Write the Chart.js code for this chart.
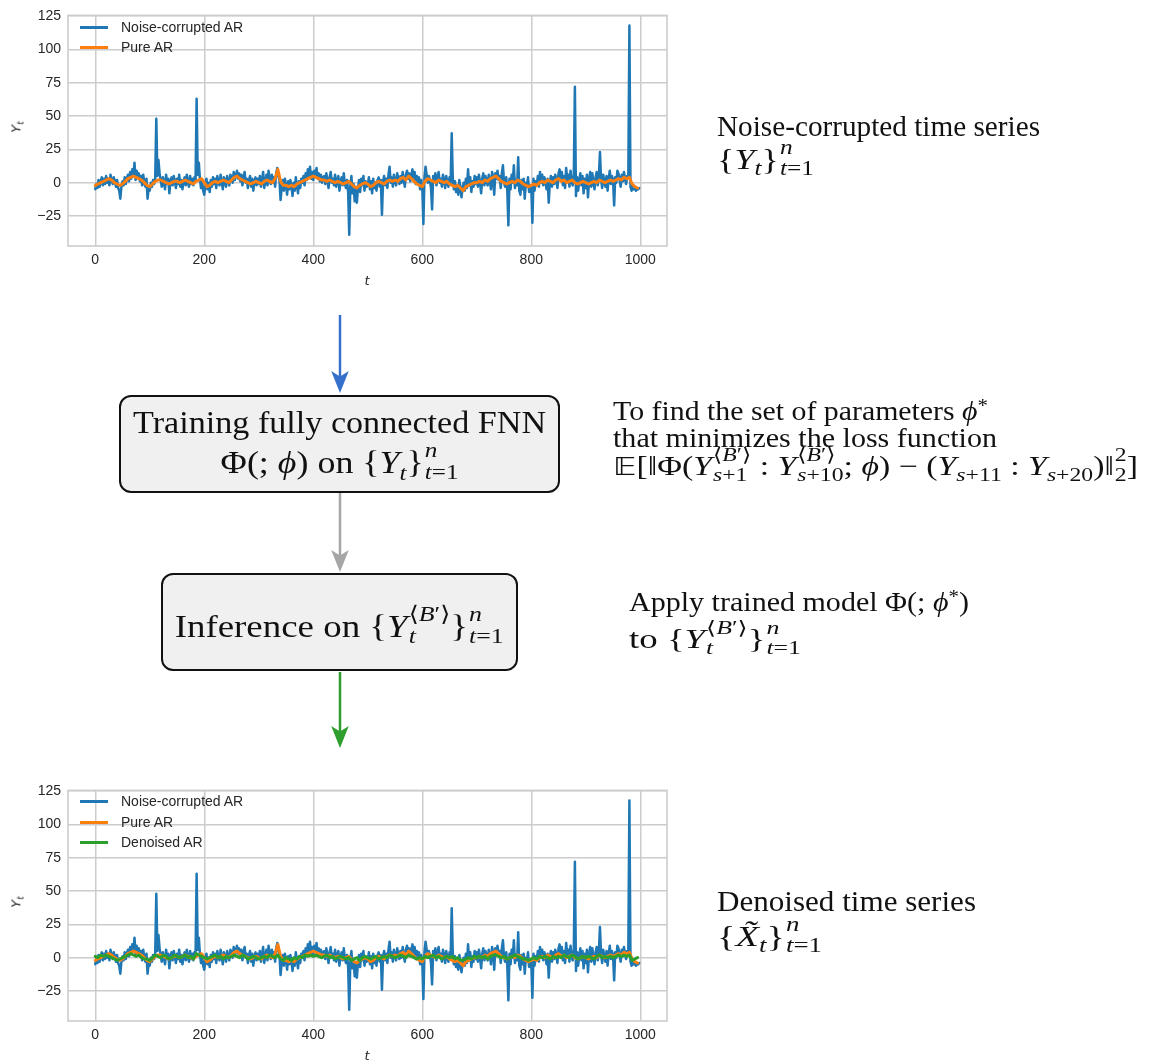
<!DOCTYPE html>
<html>
<head>
<meta charset="utf-8">
<script src="https://cdn.jsdelivr.net/npm/chart.js@4.4.1/dist/chart.umd.min.js"></script>
<style>
  html, body { margin: 0; padding: 0; background: #fff; }
  #page { position: relative; width: 1150px; height: 1063px; overflow: hidden; background: #fff; }
  canvas { position: absolute; left: 0; }
  .tx { position: absolute; font-family: "Liberation Serif", "DejaVu Serif", serif; color: #111; white-space: nowrap; line-height: 2; }
  .tx .in { display: inline-block; transform-origin: 0 50%; }
  .tx.c .in { transform-origin: 50% 50%; }
  .ss { display: inline-block; vertical-align: -0.32em; font-size: 0.7em; line-height: 1.05; text-align: left; margin-left: 0.04em; }
  .ss > span { display: block; }
  .sb { font-size: 0.7em; vertical-align: -0.3em; line-height: 1; }
  .sp { font-size: 0.7em; vertical-align: 0.45em; line-height: 1; }
  .bb { font-family: "DejaVu Sans", sans-serif; font-size: 0.95em; }
  .ang { font-family: "DejaVu Serif", serif; font-style: normal; }
  .box { position: absolute; box-sizing: border-box; border: 2.5px solid #111; border-radius: 12px; background: #f0f0f0; }
  .leg { position: absolute; font-family: "Liberation Sans", Arial, sans-serif; font-size: 14px; color: #262626; line-height: 1; }
  .sw { position: absolute; height: 3px; width: 28px; }
  .axt { position: absolute; font-family: "DejaVu Sans", sans-serif; font-style: italic; font-size: 13px; color: #262626; line-height: 1; white-space: nowrap; }
</style>
</head>
<body>
<div id="page">
  <canvas id="topChart" width="680" height="295" style="top:0px"></canvas>
  <canvas id="bottomChart" width="680" height="288" style="top:775px"></canvas>

  <!-- axis titles -->
  <div class="axt" style="left:17px;top:127px;transform:translate(-50%,-50%) rotate(-90deg);">Y<span style="font-size:0.72em;vertical-align:-0.3em;">t</span></div>
  <div class="axt" style="left:367px;top:280px;transform:translate(-50%,-50%);">t</div>
  <div class="axt" style="left:17px;top:902px;transform:translate(-50%,-50%) rotate(-90deg);">Y<span style="font-size:0.72em;vertical-align:-0.3em;">t</span></div>
  <div class="axt" style="left:367px;top:1055px;transform:translate(-50%,-50%);">t</div>

  <!-- legends -->
  <div class="sw" style="left:80px;top:26px;background:#1f77b4"></div>
  <div class="leg" style="left:121px;top:20px;">Noise-corrupted AR</div>
  <div class="sw" style="left:80px;top:46px;background:#ff7f0e"></div>
  <div class="leg" style="left:121px;top:40px;">Pure AR</div>

  <div class="sw" style="left:80px;top:800px;background:#1f77b4"></div>
  <div class="leg" style="left:121px;top:794px;">Noise-corrupted AR</div>
  <div class="sw" style="left:80px;top:821px;background:#ff7f0e"></div>
  <div class="leg" style="left:121px;top:815px;">Pure AR</div>
  <div class="sw" style="left:80px;top:841px;background:#2ca02c"></div>
  <div class="leg" style="left:121px;top:835px;">Denoised AR</div>

  <!-- flow arrows -->
  <svg width="1150" height="1063" style="position:absolute;left:0;top:0;pointer-events:none">
    <line x1="340" y1="315" x2="340" y2="380" stroke="#3470cc" stroke-width="2.5"/>
    <path d="M340 393 L331.2 371 L340 376.5 L348.8 371 Z" fill="#3470cc"/>
    <line x1="340" y1="493" x2="340" y2="560" stroke="#a6a6a6" stroke-width="2.5"/>
    <path d="M340 572 L331.2 550 L340 555.5 L348.8 550 Z" fill="#a6a6a6"/>
    <line x1="340" y1="672" x2="340" y2="736" stroke="#2e9e2e" stroke-width="2.5"/>
    <path d="M340 748 L331.2 726 L340 731.5 L348.8 726 Z" fill="#2e9e2e"/>
  </svg>

  <!-- boxes -->
  <div class="box" style="left:119px;top:395px;width:441px;height:98px;"></div>
  <div class="box" style="left:161px;top:573px;width:357px;height:98px;"></div>

  <div class="tx c" data-w="413" style="left:119px;width:441px;text-align:center;top:391.5px;font-size:31px;"><span class="in">Training fully connected FNN</span></div>
  <div class="tx c" data-w="238" style="left:119px;width:441px;text-align:center;top:431.5px;font-size:31px;"><span class="in">Φ(; <i>ϕ</i>) on {<i>Y</i><span class="sb"><i>t</i></span>}<span class="ss"><span><i>n</i></span><span><i>t</i>=1</span></span></span></div>
  <div class="tx c" data-w="329" style="left:161px;width:357px;text-align:center;top:595.5px;font-size:31px;"><span class="in">Inference on {<i>Y</i><span class="ss"><span><span class="ang">⟨</span><i>B</i>′<span class="ang">⟩</span></span><span><i>t</i></span></span>}<span class="ss"><span><i>n</i></span><span><i>t</i>=1</span></span></span></div>

  <!-- side notes -->
  <div class="tx" data-w="323" style="left:717px;top:97px;font-size:29px;"><span class="in">Noise-corrupted time series</span></div>
  <div class="tx" data-w="97" style="left:717px;top:130px;font-size:29px;"><span class="in">{<i>Y</i><span class="sb"><i>t</i></span>}<span class="ss"><span><i>n</i></span><span><i>t</i>=1</span></span></span></div>

  <div class="tx" data-w="375" style="left:613px;top:384px;font-size:27px;"><span class="in">To find the set of parameters <i>ϕ</i><span class="sp">*</span></span></div>
  <div class="tx" data-w="384" style="left:613px;top:411px;font-size:27px;"><span class="in">that minimizes the loss function</span></div>
  <div class="tx" data-w="525" style="left:613px;top:439px;font-size:27px;"><span class="in"><span class="bb">𝔼</span>[‖Φ(<i>Y</i><span class="ss"><span><span class="ang">⟨</span><i>B</i>′<span class="ang">⟩</span></span><span><i>s</i>+1</span></span> : <i>Y</i><span class="ss"><span><span class="ang">⟨</span><i>B</i>′<span class="ang">⟩</span></span><span><i>s</i>+10</span></span>; <i>ϕ</i>) − (<i>Y</i><span class="sb"><i>s</i>+11</span> : <i>Y</i><span class="sb"><i>s</i>+20</span>)‖<span class="ss"><span>2</span><span>2</span></span>]</span></div>

  <div class="tx" data-w="340" style="left:629px;top:575px;font-size:27px;"><span class="in">Apply trained model Φ(; <i>ϕ</i><span class="sp">*</span>)</span></div>
  <div class="tx" data-w="172" style="left:629px;top:612px;font-size:27px;"><span class="in">to {<i>Y</i><span class="ss"><span><span class="ang">⟨</span><i>B</i>′<span class="ang">⟩</span></span><span><i>t</i></span></span>}<span class="ss"><span><i>n</i></span><span><i>t</i>=1</span></span></span></div>

  <div class="tx" data-w="259" style="left:717px;top:872px;font-size:29px;"><span class="in">Denoised time series</span></div>
  <div class="tx" data-w="105" style="left:717px;top:907px;font-size:29px;"><span class="in">{<i>X̃</i><span class="sb"><i>t</i></span>}<span class="ss"><span><i>n</i></span><span><i>t</i>=1</span></span></span></div>
</div>

<script>
// Stretch each note line to its intended printed width
document.querySelectorAll('.tx').forEach(el => {
  const inner = el.querySelector('.in');
  const w = inner.getBoundingClientRect().width;
  const target = parseFloat(el.dataset.w);
  if (w > 0 && target) inner.style.transform = 'scaleX(' + (target / w).toFixed(4) + ')';
});

// Observed series, one reading every 2 time steps (t = 0 ... 998)
const fineSteps = Array.from({ length: 500 }, (_, i) => i * 2);
const noisyAR = [
  -5, -1, -4, 2, -3, 1, 4, -2, 3, -1,
  5, 0, 3, -2, 6, 2, -1, 4, 1, -3,
  2, -4, -6, -12, -3, 1, -2, 4, -1, 3,
  6, 1, 8, 3, 10, 5, 15, 2, 9, 4,
  7, 1, 5, -2, 6, 0, -3, 3, -12, -4,
  -6, 0, -3, 2, -1, 3, 48, 5, 17, 7,
  2, -3, 4, 0, -5, 6, -1, 3, -8, 1,
  4, -2, 5, 1, -4, 3, -1, 6, -3, 2,
  -5, 1, 4, -2, 6, 0, -3, 5, -1, 3,
  -2, 4, 1, 63, 6, 15, 3, -4, 2, -6,
  -9, -2, 3, -5, 0, -7, 2, -3, 4, -1,
  3, -4, 5, 0, -2, 6, 1, -5, 4, 2,
  -3, 5, 1, -2, 6, 3, 0, 8, 2, 5,
  9, 3, 7, 1, 6, -2, 4, 8, 0, 3,
  -4, 2, 5, -3, 3, -6, 1, 4, -2, 3,
  -1, 5, -3, 2, 8, -4, 1, 6, -2, 9,
  3, -1, 6, 0, 4, -3, 7, 11, 5, 2,
  -13, -4, 2, -6, 3, -2, -9, 1, -5, 2,
  -3, -10, 0, -6, 4, -2, -8, 1, -4, 3,
  0, 5, -2, 7, 2, 10, 4, 12, 3, 8,
  2, 9, 5, 11, 3, 7, 1, 6, 0, 4,
  5, -1, 7, 2, -4, 4, 8, 0, 3, -2,
  6, -3, 2, 5, -6, 1, 4, -2, 7, -1,
  -4, 2, -7, -39, -2, 5, -8, -1, -14, -3,
  -15, -4, 2, -7, 3, -2, 5, -6, 1, -3,
  -2, 4, -5, 1, -8, 3, -4, 0, -6, 2,
  4, -3, 2, -24, 1, 5, -2, 3, -4, 6,
  12, 0, 4, -3, 6, 1, -2, 7, 3, -1,
  5, 0, 8, 2, -3, 6, 9, 3, 7, 1,
  6, 10, 2, 8, -1, 5, 0, 4, -5, 2,
  -3, -31, 4, 12, 6, 0, 5, 2, -4, -20,
  5, 1, 7, -2, 4, 8, 0, 3, -3, 6,
  2, -4, 5, 0, -3, 4, -1, 37, 3, -5,
  1, -7, -2, -9, 2, -5, -11, -3, 0, -6,
  3, -4, 10, -2, 4, -7, 1, -3, 5, -1,
  4, -3, 6, 0, -8, 3, 7, -2, 5, 1,
  -2, 6, 2, -5, 8, 4, -9, 7, 3, 9,
  2, 5, -4, 7, 13, 0, -3, 4, -6, -32,
  3, -5, 6, 0, 13, -4, 2, -2, 19, -6,
  -9, 2, -5, 3, -12, 0, -3, 4, -7, -2,
  -4, -30, 3, -6, 1, -2, 5, -3, 8, 0,
  6, -2, 4, 1, -5, 3, -15, 0, 5, -3,
  4, -1, 6, 2, -4, 7, 10, 3, 8, -2,
  5, -4, 11, 2, 6, -3, 9, 1, -2, 6,
  72, -10, 4, -6, 2, 7, -2, 5, -8, 3,
  -4, 6, -11, 2, 8, -3, 7, 0, -5, 4,
  8, -2, 5, 23, 3, -4, 6, 1, -3, 5,
  -6, 3, 9, -1, 5, 2, -17, 4, 0, 9,
  7, 2, -3, 6, 1, 8, 3, -1, 5, 4,
  118, -3, -6, -2, -5, -3, -6, -4, -5, -4
];

// Smoother curves, one reading every 5 time steps (t = 0 ... 995)
const coarseSteps = Array.from({ length: 200 }, (_, i) => i * 5);

// Underlying clean autoregressive process
const pureAR = [
  -2, -1, 0, 1, 2, 3, 2, 0, -1, -2,
  -1, 1, 3, 4, 5, 4, 3, 2, 0, -2,
  -3, -1, 1, 2, 2, 1, 0, -1, 0, 1,
  1, 0, 1, 2, 1, 0, -1, 1, 2, 3,
  0, -3, -2, 0, 1, 0, 1, 2, 1, 0,
  2, 4, 5, 3, 2, 1, 0, -1, 0, 1,
  0, -1, 1, 2, 1, 0, 3, 10, 1, -2,
  -2, -3, -2, -3, -1, 0, 1, 2, 3, 4,
  5, 4, 3, 2, 2, 1, 2, 1, 0, 1,
  0, -1, 0, 1, -1, -3, -4, -2, -1, 0,
  -1, -3, -2, 0, 1, 0, -1, 1, 2, 1,
  2, 1, 3, 4, 2, 5, 3, 1, -1, -2,
  -3, 1, 3, 2, 1, 0, 2, 1, 0, 1,
  -1, -2, -3, -2, -4, -6, -3, -2, -1, 0,
  0, 1, 0, 2, 1, 3, 4, 5, 3, 1,
  0, -1, 0, 1, 0, 2, 1, -1, -2, -3,
  -2, -1, -2, 0, 1, 0, 2, 1, 0, 2,
  3, 1, 2, 0, 1, 2, 0, -1, 0, 1,
  0, -1, 0, 1, 0, 2, 1, 0, 1, 2,
  1, 2, 3, 2, 4, 3, 4, -1, -3, -4
];

// Network output after inference on the bootstrapped inputs
const denoisedAR = [
  1, 0, 2, 1, 2, 1, 0, -1, -2, -1,
  0, 1, 2, 3, 2, 1, 2, 0, -1, -1,
  -2, 0, 2, 1, 0, 2, 1, -1, 0, 2,
  1, 0, 1, 2, 0, 1, -1, 3, 2, 1,
  0, -1, 0, 1, 2, 0, 1, -1, 1, 0,
  1, 2, 1, 0, 2, 1, -1, 0, 1, 0,
  -1, 0, 1, 0, 2, 1, 0, 2, -1, -2,
  0, -1, -2, 0, -1, 1, 0, 2, 1, 2,
  1, 2, 1, 0, 1, 2, 0, 1, -1, 0,
  1, 0, -1, 0, -2, -1, 0, -2, 0, 1,
  0, -1, 0, 1, -1, 0, 1, 0, 2, 1,
  0, 1, 2, 1, 0, 2, 1, 0, -1, 0,
  -1, 1, 0, 1, 2, 0, 1, -1, 0, 1,
  0, 1, -1, 0, -2, -2, -1, 0, -1, 1,
  0, 1, 0, 1, -1, 1, 2, 2, 1, 0,
  1, -1, 0, 1, 2, 1, 0, -1, -1, -2,
  -1, 0, -1, 1, 0, 1, 0, -1, 1, 0,
  1, 0, 2, 1, 0, 2, 1, -1, 0, 1,
  0, 1, 0, -1, 1, 2, 0, 1, 0, 1,
  0, 1, 2, 1, 2, 1, 2, -2, -1, 0
];

const xTickValues = [0, 200, 400, 600, 800, 1000];
const yTickValues = [-25, 0, 25, 50, 75, 100, 125];

const points = (steps, vals) => vals.map((v, i) => ({ x: steps[i], y: v }));
const fmtTick = v => (v < 0 ? '\u2212' + Math.abs(v) : String(v));

// Light grey box around the plotting area
const framePlugin = {
  id: 'frame',
  afterDatasetsDraw(chart) {
    const { ctx, chartArea: a } = chart;
    ctx.save();
    ctx.strokeStyle = '#cccccc';
    ctx.lineWidth = 1.6;
    ctx.strokeRect(a.left, a.top, a.right - a.left, a.bottom - a.top);
    ctx.restore();
  }
};

function buildChart(id, datasets, padTop, xAxisHeight) {
  const tickFont = { family: 'Liberation Sans', size: 14 };
  return new Chart(document.getElementById(id), {
    type: 'line',
    data: { datasets },
    plugins: [framePlugin],
    options: {
      responsive: false,
      animation: false,
      devicePixelRatio: 1,
      layout: { padding: { top: padTop, right: 13, left: 0, bottom: 0 } },
      elements: { point: { radius: 0 }, line: { tension: 0, borderJoinStyle: 'round', borderCapStyle: 'round' } },
      plugins: { legend: { display: false }, tooltip: { enabled: false } },
      scales: {
        x: {
          type: 'linear', min: -50, max: 1049,
          afterBuildTicks: s => { s.ticks = xTickValues.map(v => ({ value: v })); },
          afterFit: s => { s.height = xAxisHeight; },
          grid: { color: '#cccccc', lineWidth: 1.5, drawTicks: false },
          border: { display: false },
          ticks: { padding: 6, color: '#262626', font: tickFont, maxRotation: 0, autoSkip: false, callback: v => fmtTick(v) }
        },
        y: {
          type: 'linear', min: -47.5, max: 125.5,
          afterBuildTicks: s => { s.ticks = yTickValues.map(v => ({ value: v })); },
          afterFit: s => { s.width = 68; },
          grid: { color: '#cccccc', lineWidth: 1.5, drawTicks: false },
          border: { display: false },
          ticks: { padding: 7, color: '#262626', font: tickFont, autoSkip: false, callback: v => fmtTick(v) }
        }
      }
    }
  });
}

const blueSet = () => ({ data: points(fineSteps, noisyAR), borderColor: '#1f77b4', borderWidth: 2.5, order: 3 });
const orangeSet = () => ({ data: points(coarseSteps, pureAR), borderColor: '#ff7f0e', borderWidth: 3, order: 2 });
const greenSet = () => ({ data: points(coarseSteps, denoisedAR), borderColor: '#2ca02c', borderWidth: 3, order: 1 });

buildChart('topChart', [blueSet(), orangeSet()], 8, 49);
buildChart('bottomChart', [blueSet(), orangeSet(), greenSet()], 9, 42);
</script>
</body>
</html>
